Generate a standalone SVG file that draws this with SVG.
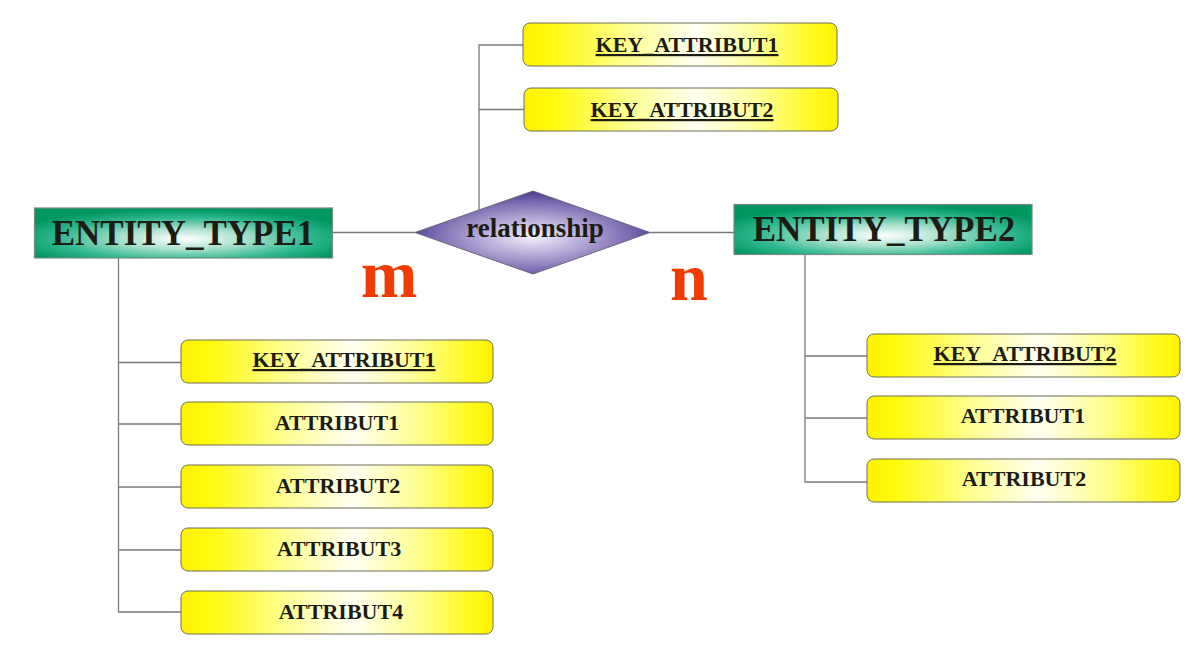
<svg xmlns="http://www.w3.org/2000/svg" width="1196" height="648" viewBox="0 0 1196 648">
<defs>
<linearGradient id="gAttr" x1="0" y1="0" x2="1" y2="0">
<stop offset="0" stop-color="#FFF200"/>
<stop offset="0.1" stop-color="#FFFA10"/>
<stop offset="0.33" stop-color="#FFFF90"/>
<stop offset="0.55" stop-color="#FFFFF2"/>
<stop offset="0.75" stop-color="#FFFF95"/>
<stop offset="0.92" stop-color="#FFFA20"/>
<stop offset="1" stop-color="#FFF200"/>
</linearGradient>
<radialGradient id="gEnt" cx="0.5" cy="0.62" r="0.6">
<stop offset="0" stop-color="#FFFFFF"/>
<stop offset="0.35" stop-color="#A8E0CC"/>
<stop offset="0.7" stop-color="#30B890"/>
<stop offset="1" stop-color="#009660"/>
</radialGradient>
<radialGradient id="gRel" cx="0.5" cy="0.55" r="0.55">
<stop offset="0" stop-color="#F4F2FA"/>
<stop offset="0.35" stop-color="#BDB2DC"/>
<stop offset="0.75" stop-color="#7C6AB0"/>
<stop offset="1" stop-color="#483888"/>
</radialGradient>
</defs>
<style>
.attr{fill:url(#gAttr);stroke:#6E6E5A;stroke-width:1}
.ent{fill:url(#gEnt);stroke:#7A8A80;stroke-width:1.2}
.rel{fill:url(#gRel);stroke:#6A6A80;stroke-width:1}
.at{font-family:"Liberation Serif","Times New Roman",serif;font-weight:bold;font-size:22px;fill:#1C1C14;text-anchor:middle}
.key{text-decoration:underline}
.et{font-family:"Liberation Serif","Times New Roman",serif;font-weight:bold;font-size:35px;fill:#1C1C14;text-anchor:middle}
.rt{font-family:"Liberation Serif","Times New Roman",serif;font-weight:bold;font-size:27px;fill:#1C1C14;text-anchor:middle}
.card{font-family:"Liberation Serif","Times New Roman",serif;font-weight:bold;font-size:68px;fill:#F03C00;text-anchor:middle}
.ln{stroke:#7A7A7A;stroke-width:1.3;fill:none}
</style>
<rect width="1196" height="648" fill="#FFFFFF"/>
<g id="connectors">
<line class="ln" x1="333" y1="232.5" x2="415" y2="232.5"/>
<line class="ln" x1="650" y1="232.5" x2="734" y2="232.5"/>
<path class="ln" d="M479,210 V45 H523 M479,109.5 H524"/>
<path class="ln" d="M118.5,258 V612 H181 M118.5,362.5 H181 M118.5,424 H181 M118.5,487 H181 M118.5,550 H181"/>
<path class="ln" d="M805,255 V482 H867 M805,356 H867 M805,418 H867"/>
</g>
<g id="entity1">
<rect class="ent" x="34.5" y="208" width="298" height="50"/>
<text class="et" x="183" y="245">ENTITY_TYPE1</text>
</g>
<g id="entity2">
<rect class="ent" x="734" y="204.5" width="298" height="50"/>
<text class="et" x="884" y="241">ENTITY_TYPE2</text>
</g>
<g id="relationship">
<polygon class="rel" points="415,232.5 533,191 650,232.5 533,274"/>
<text class="rt" x="535" y="237">relationship</text>
</g>
<g id="card-m"><text class="card" x="389" y="297">m</text></g>
<g id="card-n"><text class="card" x="689" y="300">n</text></g>
<g id="rel-key1">
<rect class="attr" x="523" y="23" width="314" height="43" rx="7"/>
<text class="at key" x="687" y="52">KEY_ATTRIBUT1</text>
</g>
<g id="rel-key2">
<rect class="attr" x="524" y="88" width="314" height="43" rx="7"/>
<text class="at key" x="682" y="117">KEY_ATTRIBUT2</text>
</g>
<g id="e1-key1">
<rect class="attr" x="181" y="340" width="312" height="43" rx="7"/>
<text class="at key" x="344" y="367">KEY_ATTRIBUT1</text>
</g>
<g id="e1-attr1">
<rect class="attr" x="181" y="402" width="312" height="43" rx="7"/>
<text class="at" x="337" y="430">ATTRIBUT1</text>
</g>
<g id="e1-attr2">
<rect class="attr" x="181" y="465" width="312" height="43" rx="7"/>
<text class="at" x="338" y="493">ATTRIBUT2</text>
</g>
<g id="e1-attr3">
<rect class="attr" x="181" y="528" width="312" height="43" rx="7"/>
<text class="at" x="339" y="556">ATTRIBUT3</text>
</g>
<g id="e1-attr4">
<rect class="attr" x="181" y="591" width="312" height="43" rx="7"/>
<text class="at" x="341" y="619">ATTRIBUT4</text>
</g>
<g id="e2-key2">
<rect class="attr" x="867" y="334" width="313" height="43" rx="7"/>
<text class="at key" x="1025" y="361">KEY_ATTRIBUT2</text>
</g>
<g id="e2-attr1">
<rect class="attr" x="867" y="396" width="313" height="43" rx="7"/>
<text class="at" x="1023" y="423">ATTRIBUT1</text>
</g>
<g id="e2-attr2">
<rect class="attr" x="867" y="459" width="313" height="43" rx="7"/>
<text class="at" x="1024" y="486">ATTRIBUT2</text>
</g>
</svg>
